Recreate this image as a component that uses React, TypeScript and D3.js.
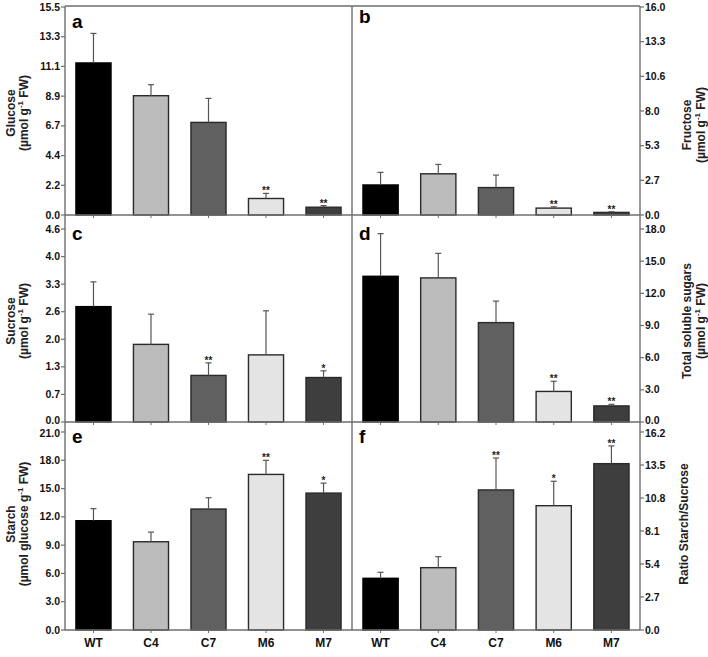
import React, { useRef, useEffect } from "react";
import * as d3 from "d3";

// genotypes on the x axis
const categories = ["WT", "C4", "C7", "M6", "M7"];

// panel a - glucose
const glucose = [11.33, 8.89, 6.9, 1.23, 0.58];
const glucoseErr = [2.2, 0.82, 1.79, 0.38, 0.12];
const glucoseSig = ["", "", "", "**", "**"];
const glucoseTicks = ["0.0", "2.2", "4.4", "6.7", "8.9", "11.1", "13.3", "15.5"];

// panel b - fructose
const fructose = [2.31, 3.17, 2.11, 0.53, 0.2];
const fructoseErr = [0.97, 0.72, 0.96, 0.1, 0.05];
const fructoseSig = ["", "", "", "**", "**"];
const fructoseTicks = ["0.0", "2.7", "5.3", "8.0", "10.6", "13.3", "16.0"];

// panel c - sucrose
const sucrose = [2.75, 1.85, 1.11, 1.6, 1.06];
const sucroseErr = [0.59, 0.72, 0.3, 1.05, 0.16];
const sucroseSig = ["", "", "**", "", "*"];
const sucroseTicks = ["0.0", "0.7", "1.3", "2.0", "2.6", "3.3", "4.0", "4.6"];

// panel d - total soluble sugars
const solubleSugars = [13.59, 13.44, 9.27, 2.85, 1.5];
const solubleSugarsErr = [3.98, 2.29, 2.0, 0.95, 0.15];
const solubleSugarsSig = ["", "", "", "**", "**"];
const solubleSugarsTicks = ["0.0", "3.0", "6.0", "9.0", "12.0", "15.0", "18.0"];

// panel e - starch
const starch = [11.59, 9.36, 12.83, 16.5, 14.52];
const starchErr = [1.28, 1.02, 1.2, 1.5, 1.06];
const starchSig = ["", "", "", "**", "*"];
const starchTicks = ["0.0", "3.0", "6.0", "9.0", "12.0", "15.0", "18.0", "21.0"];

// panel f - ratio starch/sucrose
const ratio = [4.23, 5.1, 11.46, 10.17, 13.61];
const ratioErr = [0.49, 0.9, 2.61, 2.0, 1.45];
const ratioSig = ["", "", "**", "*", "**"];
const ratioTicks = ["0.0", "2.7", "5.4", "8.1", "10.8", "13.5", "16.2"];

const barColors = ["#000000", "#bcbcbc", "#606060", "#e4e4e4", "#3e3e3e"];

const panels = [
  { letter: "a", side: "left", row: 0, max: 15.5, values: glucose, err: glucoseErr, sig: glucoseSig, ticks: glucoseTicks, label: ["Glucose", "(µmol g|-1| FW)"] },
  { letter: "b", side: "right", row: 0, max: 16, values: fructose, err: fructoseErr, sig: fructoseSig, ticks: fructoseTicks, label: ["Fructose", "(µmol g|-1| FW)"] },
  { letter: "c", side: "left", row: 1, max: 4.6, values: sucrose, err: sucroseErr, sig: sucroseSig, ticks: sucroseTicks, label: ["Sucrose", "(µmol g|-1| FW)"] },
  { letter: "d", side: "right", row: 1, max: 18, values: solubleSugars, err: solubleSugarsErr, sig: solubleSugarsSig, ticks: solubleSugarsTicks, label: ["Total soluble sugars", "(µmol g|-1| FW)"] },
  { letter: "e", side: "left", row: 2, max: 21, values: starch, err: starchErr, sig: starchSig, ticks: starchTicks, label: ["Starch", "(µmol glucose g|-1| FW)"] },
  { letter: "f", side: "right", row: 2, max: 16.2, values: ratio, err: ratioErr, sig: ratioSig, ticks: ratioTicks, label: ["Ratio Starch/Sucrose"] },
];

const rows = [
  { top: 7, bottom: 215, labelY: 113 },
  { top: 229, bottom: 422, labelY: 321 },
  { top: 432, bottom: 630, labelY: 524 },
];

const FONT = "'Liberation Sans', Arial, sans-serif";
const AXIS = "#6e6e6e";

const ChartGrid = ({ width, height }: { width: number; height: number }) => {
  const ref = useRef(null);

  useEffect(() => {
    d3.select(ref.current).selectAll("*").remove();
    const svg = d3.select(ref.current).attr("width", width).attr("height", height);

    const leftX = 65;
    const midX = 352;
    const rightX = 640;

    panels.forEach((p) => {
      const r = rows[p.row];
      const x0 = p.side === "left" ? leftX : midX;
      const x1 = p.side === "left" ? midX : rightX;
      const x = d3.scaleBand().domain(categories).range([x0, x1]).paddingInner(0.39).paddingOuter(0.19);
      const y = d3.scaleLinear().domain([0, p.max]).range([r.bottom, r.top]);
      const g = svg.append("g");

      // bars
      g.selectAll("rect.bar")
        .data(p.values)
        .enter()
        .append("rect")
        .attr("x", (d: any, i: number) => x(categories[i]) as number)
        .attr("y", (d: any) => y(d))
        .attr("width", x.bandwidth())
        .attr("height", (d: any) => r.bottom - y(d))
        .attr("fill", (d: any, i: number) => barColors[i])
        .attr("stroke", (d: any, i: number) => (i === 0 ? "#000" : "#2a2a2a"))
        .attr("stroke-width", 1.4);

      // error bars (upper only)
      p.values.forEach((v, i) => {
        const cx = (x(categories[i]) as number) + x.bandwidth() / 2;
        const yt = y(v + p.err[i]);
        g.append("line")
          .attr("x1", cx).attr("x2", cx)
          .attr("y1", y(v)).attr("y2", yt)
          .attr("stroke", "#555").attr("stroke-width", 1.2);
        g.append("line")
          .attr("x1", cx - 3).attr("x2", cx + 3)
          .attr("y1", yt).attr("y2", yt)
          .attr("stroke", "#555").attr("stroke-width", 1.2);
        if (p.sig[i]) {
          g.append("text")
            .attr("x", cx)
            .attr("y", yt + 1)
            .attr("text-anchor", "middle")
            .attr("font-family", FONT)
            .attr("font-weight", "bold")
            .attr("font-size", 10)
            .attr("fill", "#222")
            .text(p.sig[i]);
        }
      });

      // y ticks
      const n = p.ticks.length - 1;
      const axisX = p.side === "left" ? leftX : rightX;
      const dir = p.side === "left" ? -1 : 1;
      p.ticks.forEach((t, i) => {
        const ty = y((i * p.max) / n);
        // nudge labels that meet at the row joints so they don't collide
        let nudge = 0;
        if (i === 0 && p.row === 1) nudge = -1.5;
        if (i === n && p.row === 2) nudge = 1.5;
        g.append("line")
          .attr("x1", axisX).attr("x2", axisX + dir * 4)
          .attr("y1", ty).attr("y2", ty)
          .attr("stroke", AXIS).attr("stroke-width", 1.2);
        g.append("text")
          .attr("x", axisX + dir * 5)
          .attr("y", ty + 3.5 + nudge)
          .attr("text-anchor", p.side === "left" ? "end" : "start")
          .attr("font-family", FONT)
          .attr("font-weight", "bold")
          .attr("font-size", 10.5)
          .attr("fill", "#111")
          .text(t);
      });

      // small x ticks
      categories.forEach((c) => {
        const cx = (x(c) as number) + x.bandwidth() / 2;
        g.append("line")
          .attr("x1", cx).attr("x2", cx)
          .attr("y1", r.bottom).attr("y2", r.bottom + 3)
          .attr("stroke", AXIS).attr("stroke-width", 1);
      });

      // x labels on bottom row
      if (p.row === 2) {
        categories.forEach((c) => {
          g.append("text")
            .attr("x", (x(c) as number) + x.bandwidth() / 2)
            .attr("y", 647)
            .attr("text-anchor", "middle")
            .attr("font-family", FONT)
            .attr("font-weight", "bold")
            .attr("font-size", 12)
            .attr("fill", "#111")
            .text(c);
        });
      }

      // panel letter
      g.append("text")
        .attr("x", x0 + 7)
        .attr("y", p.row === 0 ? (p.side === "left" ? 28 : 23) : r.top + 11)
        .attr("font-family", FONT)
        .attr("font-weight", "bold")
        .attr("font-size", 19)
        .attr("fill", "#000")
        .text(p.letter);

      // axis title (rotated)
      const baseX = p.side === "left" ? [15, 28] : p.label.length === 1 ? [688] : [691, 705];
      const cy = p.side === "right" && p.row === 0 ? 125 : r.labelY;
      p.label.forEach((line, li) => {
        const t = g.append("text")
          .attr("transform", `translate(${baseX[li]},${cy}) rotate(-90)`)
          .attr("text-anchor", "middle")
          .attr("font-family", FONT)
          .attr("font-weight", "bold")
          .attr("font-size", 12)
          .attr("fill", "#222");
        const parts = line.split("|");
        parts.forEach((s, si) => {
          const sp = t.append("tspan").text(s);
          if (si === 1) sp.attr("font-size", 8).attr("dy", -5);
          if (si === 2) sp.attr("dy", 5);
        });
      });
    });

    // frame lines
    const lines = [
      [leftX, 6, rightX, 6],
      [leftX, 6, leftX, 630],
      [midX, 6, midX, 630],
      [rightX, 6, rightX, 630],
      ...rows.map((r) => [leftX, r.bottom, rightX, r.bottom]),
    ];
    lines.forEach(([a, b, c, d]) => {
      svg.append("line")
        .attr("x1", a).attr("y1", b).attr("x2", c).attr("y2", d)
        .attr("stroke", AXIS).attr("stroke-width", 1.4);
    });
  }, [width, height]);

  return <svg ref={ref} style={{ position: "absolute", left: 0, top: 0, background: "#fff" }}></svg>;
};

export default function App() {
  return <ChartGrid width={708} height={657} />;
}
